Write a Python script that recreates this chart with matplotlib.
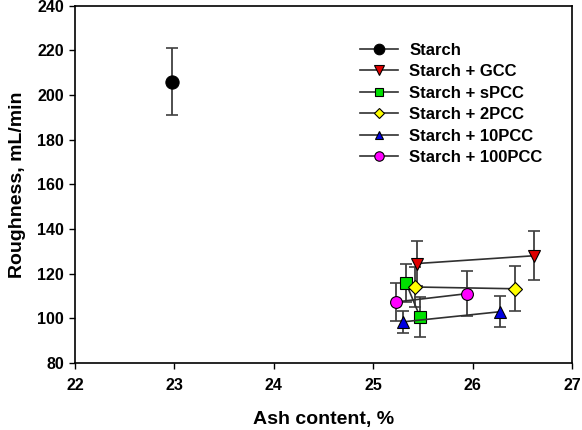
import matplotlib
matplotlib.use("Agg")
import matplotlib.pyplot as plt

plt.rcParams['font.family'] = ['Liberation Sans', 'DejaVu Sans']
plt.rcParams['font.weight'] = 'bold'

labels = ["Starch", "Starch + GCC", "Starch + sPCC", "Starch + 2PCC", "Starch + 10PCC", "Starch + 100PCC"]
ash = [[22.97], [25.44, 26.62], [25.33, 25.47], [25.42, 26.43], [25.30, 26.27], [25.23, 25.94]]
rough = [[206.0], [124.5, 128.0], [115.7, 100.6], [114.0, 113.2], [98.4, 102.9], [107.3, 111.0]]
err = [[15.0], [10.0, 11.0], [8.5, 9.0], [9.0, 10.0], [5.0, 7.0], [8.5, 10.0]]
markers = ['o', 'v', 's', 'D', '^', 'o']
colors = ['black', '#e00000', '#00e000', '#ffff00', '#0000e0', '#ff00ff']
sizes = [9.5, 9, 8, 7, 8, 8.5]
xticks = [22, 23, 24, 25, 26, 27]
yticks = [80, 100, 120, 140, 160, 180, 200, 220, 240]

fig = plt.figure(figsize=(5.82, 4.30), dpi=100)
ax = fig.add_axes([0.129, 0.156, 0.854, 0.831])

for i in range(len(labels)):
    ax.errorbar(ash[i], rough[i], yerr=err[i], fmt='none', ecolor='#404040',
                elinewidth=1.3, capsize=4, capthick=1.2, zorder=2)
    ax.plot(ash[i], rough[i], '-', color='#303030', lw=1.2, marker=markers[i],
            markersize=sizes[i], markerfacecolor=colors[i], markeredgecolor='black',
            markeredgewidth=0.8, label=labels[i], zorder=3)

ax.set_xlim(22, 27)
ax.set_ylim(80, 240)
ax.set_xticks(xticks)
ax.set_yticks(yticks)
ax.tick_params(direction='out', length=4, width=1, labelsize=11.5)
ax.tick_params(axis='x', pad=7)
ax.tick_params(axis='y', pad=4)
for lab in ax.get_xticklabels() + ax.get_yticklabels():
    lab.set_fontweight('bold')
for s in ax.spines.values():
    s.set_linewidth(1.2)
ax.set_xlabel("Ash content, %", fontsize=14, fontweight='bold', labelpad=13)
ax.set_ylabel("Roughness, mL/min", fontsize=14, fontweight='bold', labelpad=8)

leg = ax.legend(loc='upper left', bbox_to_anchor=(0.56, 0.915), frameon=False,
                fontsize=12, handlelength=2.3, handletextpad=0.65, labelspacing=0.39,
                markerscale=0.8, borderaxespad=0.0)
fig.savefig("out.png", dpi=100)
